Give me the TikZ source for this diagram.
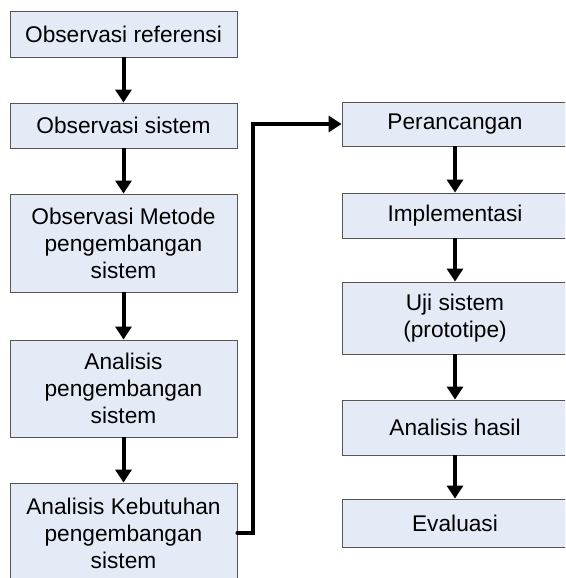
\documentclass[tikz,border=0pt]{standalone}
\usepackage{fontspec}
\setmainfont{Liberation Sans}
\usetikzlibrary{arrows.meta}
\definecolor{boxfill}{RGB}{229,235,246}
\definecolor{boxline}{RGB}{85,85,85}
\begin{document}
\begin{tikzpicture}[x=1pt,y=-1pt,
  stepbox/.style={draw=boxline,line width=0.9pt,fill=boxfill,inner sep=0pt,align=center,
     font=\fontsize{22.7}{27}\selectfont},
  lbox/.style={stepbox,minimum width=227pt},
  rbox/.style={stepbox,minimum width=226pt},
  arr/.style={line width=4pt,-{Triangle[width=16pt,length=13pt]}},
  conn/.style={line width=4pt,line cap=round,line join=miter,-{Triangle[width=16pt,length=13pt]}}]
\useasboundingbox (0,0) rectangle (565,578);
\clip (0,0) rectangle (565,578);
% left column
\node[lbox,minimum height=46pt] (b1) at (123.5,34) {Observasi referensi};
\node[lbox,minimum height=45pt] (b2) at (123.5,125.5) {Observasi sistem};
\node[lbox,minimum height=98pt] (b3) at (123.5,243) {Observasi Metode\\pengembangan\\sistem};
\node[lbox,minimum height=97pt] (b4) at (123.5,388.5) {Analisis\\pengembangan\\sistem};
\node[lbox,minimum height=100pt] (b5) at (123.5,533) {Analisis Kebutuhan\\pengembangan\\sistem};
% right column
\node[rbox,minimum height=44pt] (r1) at (455,124) {Perancangan};
\node[rbox,minimum height=45pt] (r2) at (455,215.5) {Implementasi};
\node[rbox,minimum height=72pt] (r3) at (455,318) {Uji sistem\\(prototipe)};
\node[rbox,minimum height=55pt] (r4) at (455,427.5) {Analisis hasil};
\node[rbox,minimum height=48pt] (r5) at (455,523) {Evaluasi};
% arrows
\draw[arr] (b1) -- (b2);
\draw[arr] (b2) -- (b3);
\draw[arr] (b3) -- (b4);
\draw[arr] (b4) -- (b5);
\draw[arr] (r1) -- (r2);
\draw[arr] (r2) -- (r3);
\draw[arr] (r3) -- (r4);
\draw[arr] (r4) -- (r5);
\coordinate (bend) at (253,533);
\draw[conn] (b5.east) -- (bend) |- (r1.west);
\end{tikzpicture}
\end{document}
